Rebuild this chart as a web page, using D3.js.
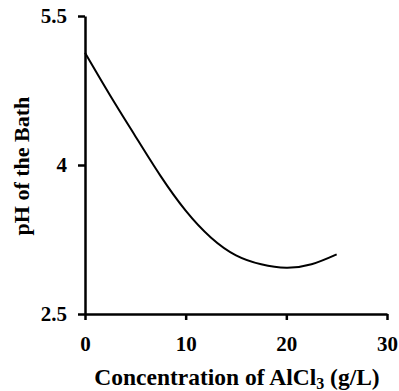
<!DOCTYPE html>
<html>
<head>
<meta charset="utf-8">
<script src="https://cdn.jsdelivr.net/npm/d3@7"></script>
<style>
  body { margin: 0; background: #fff; }
  svg text { font-family: "Liberation Serif", serif; font-weight: bold; }
</style>
</head>
<body>
<div id="chart"></div>
<script>
// AlCl3 concentration (g/L) and bath pH
const concentration = [0, 2.5, 5, 7.5, 10, 12.5, 15, 17.5, 20, 22.5, 25];
const bathPH = [5.13, 4.7, 4.29, 3.89, 3.54, 3.27, 3.09, 3.0, 2.965, 3.0, 3.1];

const xTicks = [0, 10, 20, 30];
const yTicks = [2.5, 4, 5.5];

const config = {
  width: 399,
  height: 391,
  margin: { top: 16, right: 12, bottom: 77, left: 85 },
};

const width = config.width - config.margin.left - config.margin.right;
const height = config.height - config.margin.top - config.margin.bottom;

const svg = d3.select("#chart").append("svg")
  .attr("width", config.width)
  .attr("height", config.height)
  .attr("font-family", "Liberation Serif")
  .attr("font-weight", "bold");

const chart = svg.append("g")
  .attr("transform", `translate(${config.margin.left},${config.margin.top})`);

const x = d3.scaleLinear().domain([0, 30]).range([0, width]);
const y = d3.scaleLinear().domain([2.5, 5.5]).range([height, 0]);

// axes
const xAxis = chart.append("g")
  .attr("transform", `translate(0,${height})`)
  .call(d3.axisBottom(x).tickValues(xTicks).tickFormat(d => d)
    .tickSize(6).tickSizeOuter(0).tickPadding(16));

const yAxis = chart.append("g")
  .call(d3.axisLeft(y).tickValues(yTicks).tickFormat(d => d)
    .tickSize(7).tickSizeOuter(0).tickPadding(11));

[xAxis, yAxis].forEach(ax => {
  ax.attr("font-family", "Liberation Serif").attr("font-size", 21);
  ax.selectAll("path, line").attr("stroke", "#000").attr("stroke-width", 2.5);
  ax.selectAll("text").attr("fill", "#000");
});

// curve
const line = d3.line()
  .x((d, i) => x(concentration[i]))
  .y(d => y(d))
  .curve(d3.curveNatural);

chart.append("path")
  .datum(bathPH)
  .attr("fill", "none")
  .attr("stroke", "#000")
  .attr("stroke-width", 2)
  .attr("d", line);

// axis titles
const xTitle = svg.append("text")
  .attr("x", 237)
  .attr("y", 385)
  .attr("text-anchor", "middle")
  .attr("font-size", 23.5);
xTitle.append("tspan").text("Concentration of AlCl");
xTitle.append("tspan").attr("dy", 4).attr("font-size", 16).text("3");
xTitle.append("tspan").attr("dy", -4).text(" (g/L)");

svg.append("text")
  .attr("transform", "translate(29,166) rotate(-90)")
  .attr("text-anchor", "middle")
  .attr("font-size", 22)
  .text("pH of the Bath");
</script>
</body>
</html>
